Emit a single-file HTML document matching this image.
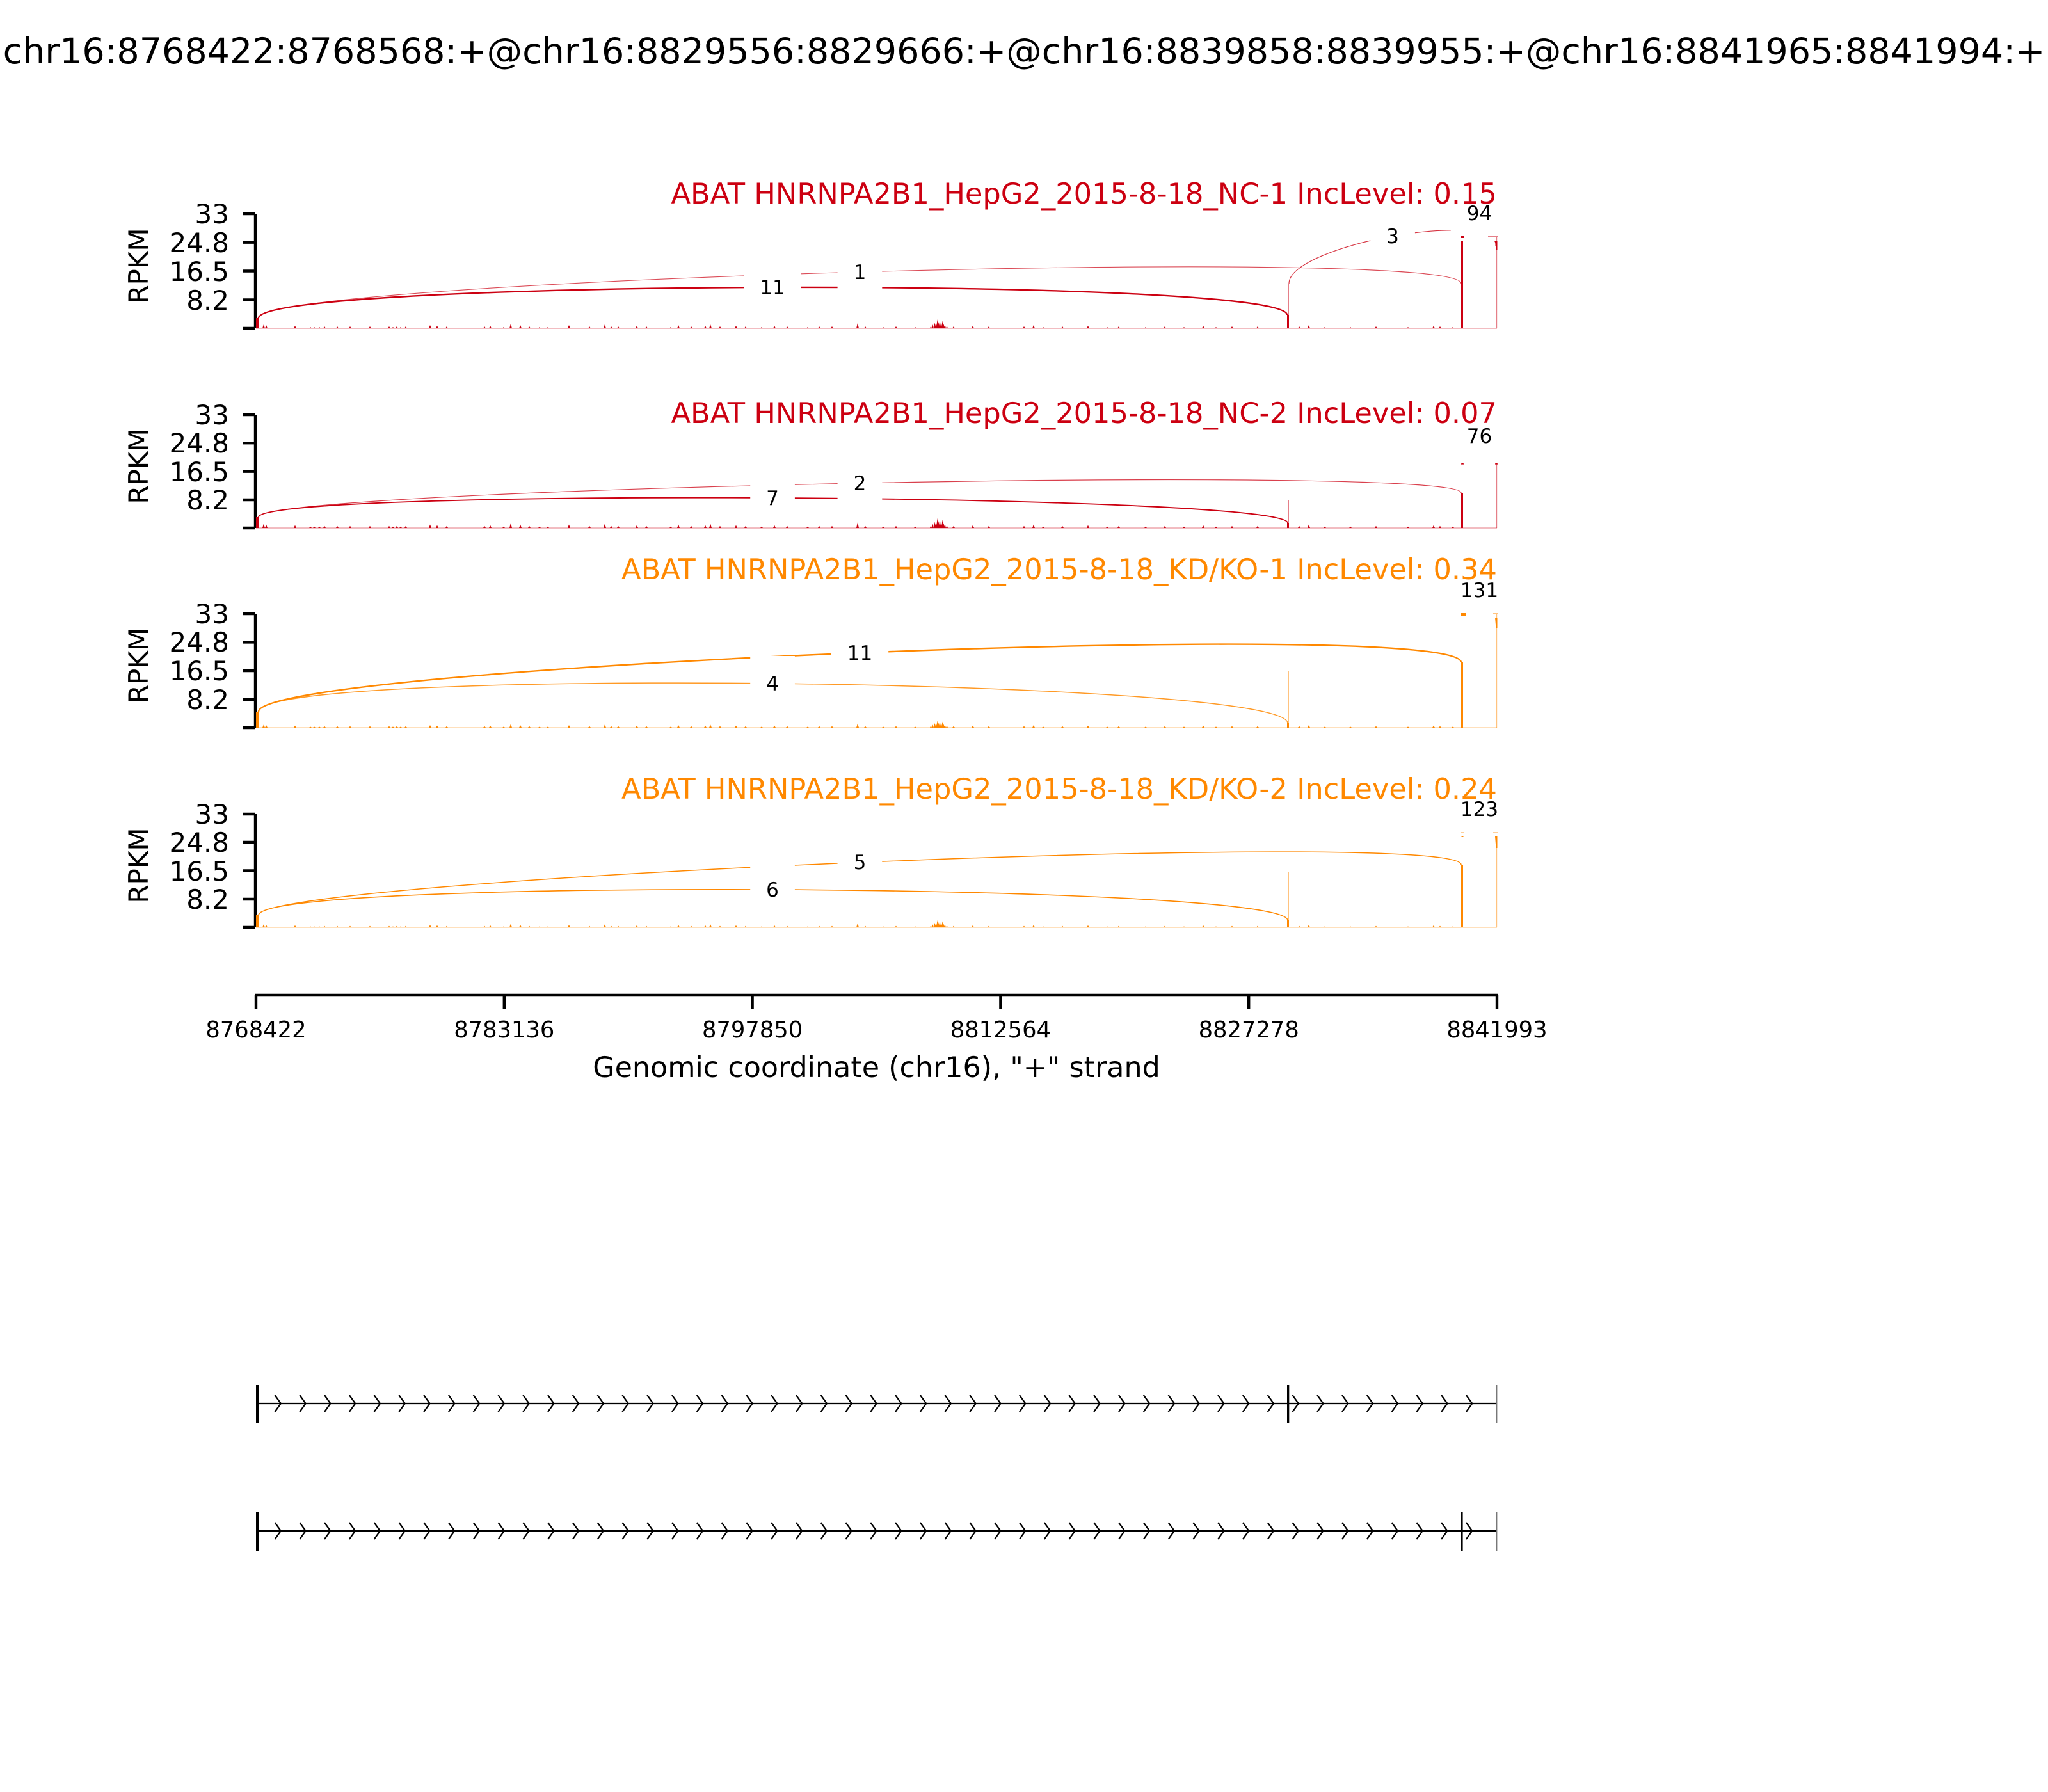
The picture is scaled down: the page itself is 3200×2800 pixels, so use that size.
<!DOCTYPE html>
<html>
<head>
<meta charset="utf-8">
<style>
  html, body { margin: 0; padding: 0; background: #ffffff; }
  svg { display: block; }
  text { font-family: "DejaVu Sans", "Liberation Sans", sans-serif; }
</style>
</head>
<body>
<svg xmlns="http://www.w3.org/2000/svg" xmlns:xlink="http://www.w3.org/1999/xlink" width="3200" height="2800" viewBox="0 0 3200 2800">
  <defs>
    <path id="spk" d="M410 0l2 -6l2 6zM414 0l2 -5l2 5zM459 0l2 -4l2 4zM483 0l2 -2l2 2zM489 0l2 -2l2 2zM497 0l2 -2l2 2zM505 0l2 -3l2 3zM525 0l2 -3l2 3zM545 0l2 -3l2 3zM576 0l2 -3l2 3zM606 0l2 -3l2 3zM612 0l2 -2l2 2zM618 0l2 -3l2 3zM624 0l2 -2l2 2zM632 0l2 -3l2 3zM670 0l2 -5l2 5zM681 0l2 -4l2 4zM696 0l2 -3l2 3zM755 0l2 -3l2 3zM764 0l2 -4l2 4zM785 0l2 -2l2 2zM796 0l2 -7l2 7zM811 0l2 -5l2 5zM825 0l2 -3l2 3zM841 0l2 -2l2 2zM854 0l2 -2l2 2zM887 0l2 -5l2 5zM919 0l2 -3l2 3zM943 0l2 -6l2 6zM953 0l2 -3l2 3zM964 0l2 -3l2 3zM993 0l2 -4l2 4zM1008 0l2 -3l2 3zM1046 0l2 -2l2 2zM1058 0l2 -5l2 5zM1078 0l2 -3l2 3zM1100 0l2 -4l2 4zM1108 0l2 -6l2 6zM1123 0l2 -3l2 3zM1148 0l2 -4l2 4zM1163 0l2 -3l2 3zM1188 0l2 -2l2 2zM1208 0l2 -4l2 4zM1228 0l2 -3l2 3zM1260 0l2 -2l2 2zM1278 0l2 -3l2 3zM1298 0l2 -3l2 3zM1338 0l2 -8l2 8zM1350 0l2 -3l2 3zM1378 0l2 -2l2 2zM1398 0l2 -3l2 3zM1428 0l2 -2l2 2zM1453 0l1.5 -4l1.5 4zM1456 0l1.5 -6l1.5 6zM1459 0l1.5 -9l1.5 9zM1461 0l1.5 -11l1.5 11zM1463 0l1.5 -14l1.5 14zM1465 0l1.5 -10l1.5 10zM1467 0l1.5 -15l1.5 15zM1469 0l1.5 -9l1.5 9zM1471 0l1.5 -12l1.5 12zM1473 0l1.5 -7l1.5 7zM1475 0l1.5 -6l1.5 6zM1478 0l1.5 -4l1.5 4zM1488 0l2 -3l2 3zM1518 0l2 -4l2 4zM1543 0l2 -3l2 3zM1598 0l2 -3l2 3zM1613 0l2 -5l2 5zM1628 0l2 -2l2 2zM1658 0l2 -3l2 3zM1698 0l2 -4l2 4zM1728 0l2 -2l2 2zM1746 0l2 -3l2 3zM1788 0l2 -2l2 2zM1818 0l2 -3l2 3zM1848 0l2 -2l2 2zM1878 0l2 -4l2 4zM1898 0l2 -2l2 2zM1923 0l2 -3l2 3zM1963 0l2 -3l2 3zM2028 0l2 -3l2 3zM2043 0l2 -5l2 5zM2068 0l2 -2l2 2zM2108 0l2 -2l2 2zM2148 0l2 -3l2 3zM2198 0l2 -2l2 2zM2238 0l2 -4l2 4zM2248 0l2 -3l2 3zM2268 0l2 -2l2 2z"/>
    <path id="chev" fill="none" stroke="#000" stroke-width="2.3" d="M429.5 -13L438.8 0L429.5 13M468.3 -13L477.6 0L468.3 13M507.0 -13L516.3 0L507.0 13M545.8 -13L555.1 0L545.8 13M584.6 -13L593.9 0L584.6 13M623.4 -13L632.7 0L623.4 13M662.2 -13L671.5 0L662.2 13M700.9 -13L710.2 0L700.9 13M739.7 -13L749.0 0L739.7 13M778.5 -13L787.8 0L778.5 13M817.3 -13L826.6 0L817.3 13M856.1 -13L865.4 0L856.1 13M894.8 -13L904.1 0L894.8 13M933.6 -13L942.9 0L933.6 13M972.4 -13L981.7 0L972.4 13M1011.2 -13L1020.5 0L1011.2 13M1050.0 -13L1059.3 0L1050.0 13M1088.7 -13L1098.0 0L1088.7 13M1127.5 -13L1136.8 0L1127.5 13M1166.3 -13L1175.6 0L1166.3 13M1205.1 -13L1214.4 0L1205.1 13M1243.9 -13L1253.2 0L1243.9 13M1282.6 -13L1291.9 0L1282.6 13M1321.4 -13L1330.7 0L1321.4 13M1360.2 -13L1369.5 0L1360.2 13M1399.0 -13L1408.3 0L1399.0 13M1437.8 -13L1447.1 0L1437.8 13M1476.5 -13L1485.8 0L1476.5 13M1515.3 -13L1524.6 0L1515.3 13M1554.1 -13L1563.4 0L1554.1 13M1592.9 -13L1602.2 0L1592.9 13M1631.7 -13L1641.0 0L1631.7 13M1670.4 -13L1679.7 0L1670.4 13M1709.2 -13L1718.5 0L1709.2 13M1748.0 -13L1757.3 0L1748.0 13M1786.8 -13L1796.1 0L1786.8 13M1825.6 -13L1834.9 0L1825.6 13M1864.3 -13L1873.6 0L1864.3 13M1903.1 -13L1912.4 0L1903.1 13M1941.9 -13L1951.2 0L1941.9 13M1980.7 -13L1990.0 0L1980.7 13M2019.5 -13L2028.8 0L2019.5 13M2058.2 -13L2067.5 0L2058.2 13M2097.0 -13L2106.3 0L2097.0 13M2135.8 -13L2145.1 0L2135.8 13M2174.6 -13L2183.9 0L2174.6 13M2213.4 -13L2222.7 0L2213.4 13M2252.1 -13L2261.4 0L2252.1 13M2290.9 -13L2300.2 0L2290.9 13"/>
  </defs>

  <rect x="0" y="0" width="3200" height="2800" fill="#ffffff"/>

  <!-- Main title -->
  <text x="1600" y="99" font-size="55.5" text-anchor="middle" fill="#000">chr16:8768422:8768568:+@chr16:8829556:8829666:+@chr16:8839858:8839955:+@chr16:8841965:8841994:+</text>

  <!-- ================= PANEL 1 ================= -->
  <g>
    <g stroke="#000" stroke-width="4.4" fill="none">
      <line x1="399" y1="334" x2="399" y2="513"/>
      <line x1="380" y1="334" x2="399" y2="334"/>
      <line x1="380" y1="378.7" x2="399" y2="378.7"/>
      <line x1="380" y1="423.5" x2="399" y2="423.5"/>
      <line x1="380" y1="468.5" x2="399" y2="468.5"/>
      <line x1="380" y1="513" x2="399" y2="513"/>
    </g>
    <g font-size="42" text-anchor="end" fill="#000">
      <text x="358" y="349">33</text>
      <text x="358" y="394">24.8</text>
      <text x="358" y="439">16.5</text>
      <text x="358" y="484">8.2</text>
    </g>
    <text transform="translate(231,415.5) rotate(-90)" font-size="42" text-anchor="middle" fill="#000">RPKM</text>
    <g fill="none" stroke="#CC0011">
      <path d="M404 497C404 436.3 2011 431.3 2011 492" stroke-width="2.4"/>
      <path d="M404 497C404 437 2283 383 2283 443" stroke-width="1.1" stroke-opacity="0.7"/>
      <path d="M2014 443C2014 383 2338 325 2338 385" stroke-width="1.2" stroke-opacity="0.8"/>
      <path d="M2285 370C2285 310.7 2338 325.7 2338 385" stroke-width="3"/>
    </g>
    <g font-size="31" text-anchor="middle" fill="#000">
      <rect x="1162.3" y="406" width="89.4" height="86" fill="#fff"/>
      <text x="1207" y="460">11</text>
      <rect x="1308.6" y="382" width="69.7" height="86" fill="#fff"/>
      <text x="1343.5" y="436">1</text>
      <rect x="2141.2" y="326" width="69.7" height="86" fill="#fff"/>
      <text x="2176" y="380">3</text>
      <rect x="2266.8" y="290" width="89.4" height="86" fill="#fff"/>
      <text x="2311.5" y="344">94</text>
    </g>
    <line x1="400" y1="513" x2="2339" y2="513" stroke="#CC0011" stroke-opacity="0.35" stroke-width="1.6"/>
    <use xlink:href="#spk" href="#spk" transform="translate(0,513)" fill="#CC0011"/>
    <g fill="#CC0011">
      <rect x="400" y="497" width="4" height="16"/>
      <rect x="2013" y="443" width="1" height="70" fill-opacity="0.5"/>
      <rect x="2011" y="492" width="3" height="21"/>
      <rect x="2284" y="370" width="1" height="143" fill-opacity="0.6"/>
      <rect x="2283" y="377" width="3" height="136"/>
      <rect x="2283" y="369" width="5" height="3"/>
      <rect x="2338" y="370" width="1.2" height="143" fill-opacity="0.5"/>
      <polygon points="2336,376 2339.5,376 2339.5,390 2337.5,390"/>
      <rect x="2325" y="369" width="15" height="2" fill-opacity="0.5"/>
    </g>
  </g>

  <!-- ================= PANEL 2 ================= -->
  <g>
    <g stroke="#000" stroke-width="4.4" fill="none">
      <line x1="399" y1="648" x2="399" y2="825"/>
      <line x1="380" y1="648" x2="399" y2="648"/>
      <line x1="380" y1="692.2" x2="399" y2="692.2"/>
      <line x1="380" y1="736.7" x2="399" y2="736.7"/>
      <line x1="380" y1="781" x2="399" y2="781"/>
      <line x1="380" y1="825" x2="399" y2="825"/>
    </g>
    <g font-size="42" text-anchor="end" fill="#000">
      <text x="358" y="663">33</text>
      <text x="358" y="707">24.8</text>
      <text x="358" y="752">16.5</text>
      <text x="358" y="796">8.2</text>
    </g>
    <text transform="translate(231,728.5) rotate(-90)" font-size="42" text-anchor="middle" fill="#000">RPKM</text>
    <g fill="none" stroke="#CC0011">
      <path d="M404 808C404 762 2012 771 2012 817" stroke-width="1.9"/>
      <path d="M404 808C404 762.7 2283 724.7 2283 770" stroke-width="1.2" stroke-opacity="0.75"/>
      <path d="M2285 725C2285 666.3 2338 666.3 2338 725" stroke-width="3"/>
    </g>
    <g font-size="31" text-anchor="middle" fill="#000">
      <rect x="1172.2" y="735" width="69.7" height="86" fill="#fff"/>
      <text x="1207" y="789">7</text>
      <rect x="1308.6" y="712" width="69.7" height="86" fill="#fff"/>
      <text x="1343.5" y="766">2</text>
      <rect x="2266.8" y="638" width="89.4" height="86" fill="#fff"/>
      <text x="2311.5" y="692">76</text>
    </g>
    <line x1="400" y1="825" x2="2339" y2="825" stroke="#CC0011" stroke-opacity="0.35" stroke-width="1.6"/>
    <use xlink:href="#spk" href="#spk" transform="translate(0,825) scale(1,1.1)" fill="#CC0011"/>
    <g fill="#CC0011">
      <rect x="400" y="808" width="4" height="17"/>
      <rect x="2013" y="782" width="1" height="43" fill-opacity="0.5"/>
      <rect x="2011" y="817" width="3" height="8"/>
      <rect x="2284" y="725" width="1" height="100" fill-opacity="0.6"/>
      <rect x="2283" y="770" width="3" height="55"/>
      <rect x="2283" y="724" width="4" height="2" fill-opacity="0.6"/>
      <rect x="2338" y="725" width="1.2" height="100" fill-opacity="0.5"/>
      <rect x="2336" y="724" width="4" height="2" fill-opacity="0.6"/>
    </g>
  </g>

  <!-- ================= PANEL 3 ================= -->
  <g>
    <g stroke="#000" stroke-width="4.4" fill="none">
      <line x1="399" y1="959" x2="399" y2="1137"/>
      <line x1="380" y1="959" x2="399" y2="959"/>
      <line x1="380" y1="1003.4" x2="399" y2="1003.4"/>
      <line x1="380" y1="1048" x2="399" y2="1048"/>
      <line x1="380" y1="1092.8" x2="399" y2="1092.8"/>
      <line x1="380" y1="1137" x2="399" y2="1137"/>
    </g>
    <g font-size="42" text-anchor="end" fill="#000">
      <text x="358" y="974">33</text>
      <text x="358" y="1018">24.8</text>
      <text x="358" y="1063">16.5</text>
      <text x="358" y="1108">8.2</text>
    </g>
    <text transform="translate(231,1040) rotate(-90)" font-size="42" text-anchor="middle" fill="#000">RPKM</text>
    <g fill="none" stroke="#FF8800">
      <path d="M404 1112C404 1041.3 2012 1059.3 2012 1130" stroke-width="1.5" stroke-opacity="0.85"/>
      <path d="M404 1112C404 1040.7 2283 963.7 2283 1035" stroke-width="2.4"/>
      <path d="M2285 959C2285 906 2338 912 2338 965" stroke-width="3"/>
    </g>
    <g font-size="31" text-anchor="middle" fill="#000">
      <rect x="1172.2" y="1025" width="69.7" height="86" fill="#fff"/>
      <text x="1207" y="1079">4</text>
      <rect x="1298.8" y="977" width="89.4" height="86" fill="#fff"/>
      <text x="1343.5" y="1031">11</text>
      <rect x="2257" y="879" width="109" height="86" fill="#fff"/>
      <text x="2311.5" y="933">131</text>
    </g>
    <line x1="400" y1="1137" x2="2339" y2="1137" stroke="#FF8800" stroke-opacity="0.35" stroke-width="1.6"/>
    <use xlink:href="#spk" href="#spk" transform="translate(0,1137) scale(1,0.8)" fill="#FF8800"/>
    <g fill="#FF8800">
      <rect x="400" y="1112" width="4" height="25"/>
      <rect x="2013" y="1048" width="1" height="89" fill-opacity="0.5"/>
      <rect x="2011" y="1130" width="3" height="7"/>
      <rect x="2284" y="959" width="1" height="178" fill-opacity="0.6"/>
      <rect x="2283" y="1035" width="3" height="102"/>
      <rect x="2283" y="958" width="7" height="5"/>
      <rect x="2338" y="960" width="1.2" height="177" fill-opacity="0.5"/>
      <polygon points="2336,965 2339.5,965 2339.5,982 2337.5,982"/>
      <rect x="2333" y="958" width="7" height="2" fill-opacity="0.5"/>
    </g>
  </g>

  <!-- ================= PANEL 4 ================= -->
  <g>
    <g stroke="#000" stroke-width="4.4" fill="none">
      <line x1="399" y1="1272" x2="399" y2="1449"/>
      <line x1="380" y1="1272" x2="399" y2="1272"/>
      <line x1="380" y1="1316" x2="399" y2="1316"/>
      <line x1="380" y1="1360.5" x2="399" y2="1360.5"/>
      <line x1="380" y1="1405" x2="399" y2="1405"/>
      <line x1="380" y1="1449" x2="399" y2="1449"/>
    </g>
    <g font-size="42" text-anchor="end" fill="#000">
      <text x="358" y="1287">33</text>
      <text x="358" y="1331">24.8</text>
      <text x="358" y="1376">16.5</text>
      <text x="358" y="1420">8.2</text>
    </g>
    <text transform="translate(231,1352.5) rotate(-90)" font-size="42" text-anchor="middle" fill="#000">RPKM</text>
    <g fill="none" stroke="#FF8800">
      <path d="M404 1430C404 1371.3 2012 1379.3 2012 1438" stroke-width="1.6"/>
      <path d="M404 1430C404 1372.7 2283 1293.7 2283 1351" stroke-width="1.5"/>
      <path d="M2285 1308C2285 1248 2338 1250 2338 1310" stroke-width="3"/>
    </g>
    <g font-size="31" text-anchor="middle" fill="#000">
      <rect x="1172.2" y="1347" width="69.7" height="86" fill="#fff"/>
      <text x="1207" y="1401">6</text>
      <rect x="1308.6" y="1304" width="69.7" height="86" fill="#fff"/>
      <text x="1343.5" y="1358">5</text>
      <rect x="2257" y="1221" width="109" height="86" fill="#fff"/>
      <text x="2311.5" y="1275">123</text>
    </g>
    <line x1="400" y1="1449" x2="2339" y2="1449" stroke="#FF8800" stroke-opacity="0.35" stroke-width="1.6"/>
    <use xlink:href="#spk" href="#spk" transform="translate(0,1449) scale(1,0.8)" fill="#FF8800"/>
    <g fill="#FF8800">
      <rect x="400" y="1430" width="4" height="19"/>
      <rect x="2013" y="1363" width="1" height="86" fill-opacity="0.5"/>
      <rect x="2011" y="1438" width="3" height="11"/>
      <rect x="2284" y="1306" width="1" height="143" fill-opacity="0.6"/>
      <rect x="2283" y="1352" width="3" height="97"/>
      <rect x="2283" y="1300" width="5" height="2" fill-opacity="0.4"/>
      <rect x="2338" y="1306" width="1.2" height="143" fill-opacity="0.5"/>
      <polygon points="2336,1307 2339.5,1307 2339.5,1325 2337.5,1325"/>
      <rect x="2333" y="1300" width="7" height="2" fill-opacity="0.4"/>
    </g>
  </g>

  <!-- Panel titles on top -->
  <text x="2339" y="318" font-size="44.7" text-anchor="end" fill="#CC0011">ABAT HNRNPA2B1_HepG2_2015-8-18_NC-1 IncLevel: 0.15</text>
  <text x="2339" y="661" font-size="44.7" text-anchor="end" fill="#CC0011">ABAT HNRNPA2B1_HepG2_2015-8-18_NC-2 IncLevel: 0.07</text>
  <text x="2339" y="905" font-size="44.7" text-anchor="end" fill="#FF8800">ABAT HNRNPA2B1_HepG2_2015-8-18_KD/KO-1 IncLevel: 0.34</text>
  <text x="2339" y="1248" font-size="44.7" text-anchor="end" fill="#FF8800">ABAT HNRNPA2B1_HepG2_2015-8-18_KD/KO-2 IncLevel: 0.24</text>

  <!-- ================= X AXIS ================= -->
  <g stroke="#000" stroke-width="4.4" fill="none">
    <line x1="398" y1="1555" x2="2341" y2="1555"/>
    <line x1="400" y1="1555" x2="400" y2="1576"/>
    <line x1="787.8" y1="1555" x2="787.8" y2="1576"/>
    <line x1="1175.6" y1="1555" x2="1175.6" y2="1576"/>
    <line x1="1563.4" y1="1555" x2="1563.4" y2="1576"/>
    <line x1="1951.2" y1="1555" x2="1951.2" y2="1576"/>
    <line x1="2339" y1="1555" x2="2339" y2="1576"/>
  </g>
  <g font-size="35.3" text-anchor="middle" fill="#000">
    <text x="400" y="1621">8768422</text>
    <text x="787.8" y="1621">8783136</text>
    <text x="1175.6" y="1621">8797850</text>
    <text x="1563.4" y="1621">8812564</text>
    <text x="1951.2" y="1621">8827278</text>
    <text x="2339" y="1621">8841993</text>
  </g>
  <text x="1369.5" y="1683" font-size="44.4" text-anchor="middle" fill="#000">Genomic coordinate (chr16), "+" strand</text>

  <!-- ================= GENE TRACKS ================= -->
  <g>
    <line x1="400" y1="2193" x2="2339" y2="2193" stroke="#000" stroke-width="2.3"/>
    <use xlink:href="#chev" href="#chev" transform="translate(0,2193)"/>
    <rect x="400" y="2164" width="4" height="60" fill="#000"/>
    <rect x="2011" y="2164" width="3.3" height="60" fill="#000"/>
    <rect x="2338" y="2164" width="1.4" height="60" fill="#777"/>
  </g>
  <g>
    <line x1="400" y1="2392" x2="2339" y2="2392" stroke="#000" stroke-width="2.3"/>
    <use xlink:href="#chev" href="#chev" transform="translate(0,2392)"/>
    <rect x="400" y="2363" width="4" height="60" fill="#000"/>
    <rect x="2283" y="2363" width="2.6" height="60" fill="#000"/>
    <rect x="2338" y="2363" width="1.4" height="60" fill="#777"/>
  </g>
</svg>
</body>
</html>
